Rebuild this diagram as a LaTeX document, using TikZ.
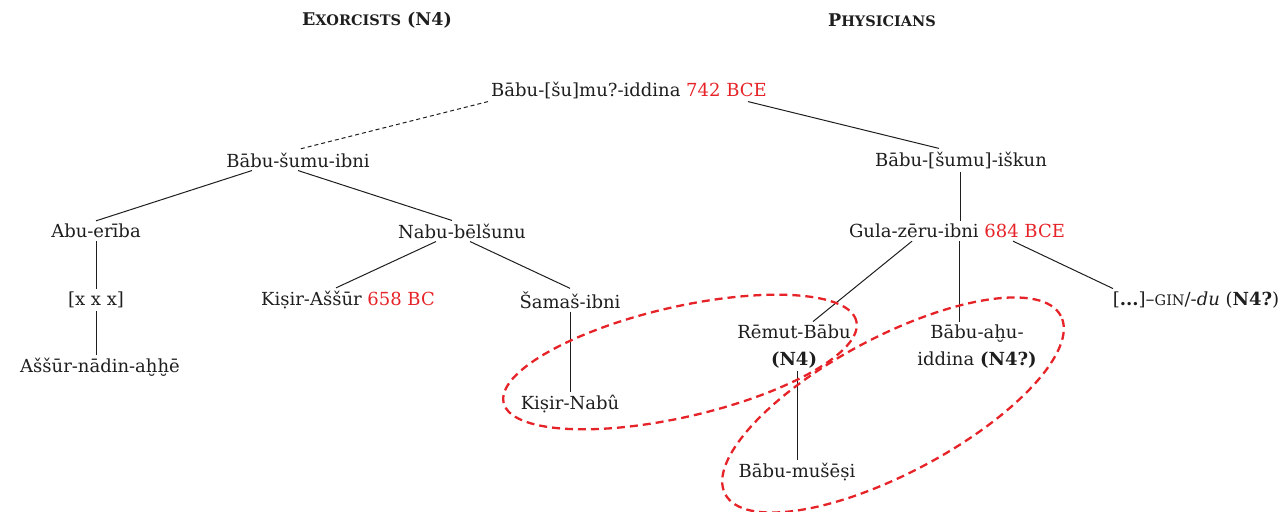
\documentclass[tikz,border=0pt]{standalone}
\usepackage{fontspec}
\setmainfont{DejaVu Serif}
\usetikzlibrary{calc}
\definecolor{datered}{RGB}{230,35,40}
\definecolor{ink}{RGB}{30,30,30}
\newcommand{\fakesc}[1]{{\fontsize{14.5}{14.5}\selectfont #1}}
\newcommand{\dte}[1]{\textcolor{datered}{#1}}
\begin{document}
\begin{tikzpicture}[x=1pt,y=1pt,
  every node/.style={font=\fontsize{18}{27}\selectfont, text=ink, inner sep=3pt},
  person/.style={align=center},
  link/.style={draw=ink, line width=1pt},
  dlink/.style={link, dash pattern=on 4pt off 3pt},
  group/.style={draw=datered, line width=2.3pt, dash pattern=on 8pt off 5pt},
  title/.style={font=\fontsize{17.5}{20}\selectfont\bfseries}]
\useasboundingbox (0,0) rectangle (1281,-511);

% titles
\node[title] (tex) at (377,-20) {E\fakesc{XORCISTS} (N4)};
\node[title] (tph) at (882,-20) {P\fakesc{HYSICIANS}};

% persons
\node[person] (root) at (629,-90) {Bābu-[šu]mu?-iddina \dte{742 BCE}};
\node[person] (bsi) at (298,-160) {Bābu-šumu-ibni};
\node[person] (bski) at (961,-160) {Bābu-[šumu]-iškun};
\node[person] (abu) at (96,-231) {Abu-erība};
\node[person] (nabu) at (462,-231) {Nabu-bēlšunu};
\node[person] (gula) at (957,-231) {Gula-zēru-ibni \dte{684 BCE}};
\node[person] (xxx) at (96,-300) {[x x x]};
\node[person] (kisa) at (348,-300) {Kiṣir-Aššūr \dte{658 BC}};
\node[person] (sam) at (570,-300) {Šamaš-ibni};
\node[person] (rem) at (794,-346.5) {Rēmut-Bābu\\\textbf{(N4)}};
\node[person] (bah) at (977,-346.5) {Bābu-aḫu-\\iddina \textbf{(N4?)}};
\node[person] (gin) at (1196,-300) {[\textbf{...}]–\fakesc{GIN}/-\textit{du} (\textbf{N4?})};
\node[person] (ass) at (100,-367) {Aššūr-nādin-aḫḫē};
\node[person] (kisn) at (570,-404) {Kiṣir-Nabû};
\node[person] (bms) at (797,-472) {Bābu-mušēṣi};

% connectors
\draw[dlink] (root.south west) -- (bsi.north);
\draw[link] ([xshift=-22pt]root.south east) -- ([xshift=-22pt]bski.north);
\draw[link] ([xshift=-46pt]bsi.south) -- (abu.north);
\draw[link] (bsi.south) -- ([xshift=-10pt]nabu.north);
\draw[link] (abu.south) -- (abu.south |- xxx.north);
\draw[link] (xxx.south -| abu.south) -- (abu.south |- ass.north);
\draw[link] ([xshift=-26pt]nabu.south) -- ([xshift=-12pt]kisa.north);
\draw[link] ([xshift=8pt]nabu.south) -- (sam.north);
\draw[link] (sam.south) -- (kisn.north);
\draw[link] ([xshift=-1pt]bski.south) -- ([xshift=-1pt]bski.south |- gula.north);
\draw[link] ([xshift=-45pt]gula.south) -- ([xshift=19pt]rem.north);
\draw[link] ([xshift=2pt]gula.south) -- ([xshift=2pt]gula.south |- bah.north);
\draw[link] ([xshift=56pt]gula.south) -- ([xshift=-83pt]gin.north);
\draw[link] ([xshift=3pt]rem.south) -- ([xshift=3pt]rem.south |- bms.north);

% groups
\draw[group, rotate around={13:(680,-362)}] (680,-362) ellipse [x radius=181, y radius=55];
\draw[group, rotate around={28:(893,-405)}] (893,-405) ellipse [x radius=190, y radius=68];
\end{tikzpicture}
\end{document}
